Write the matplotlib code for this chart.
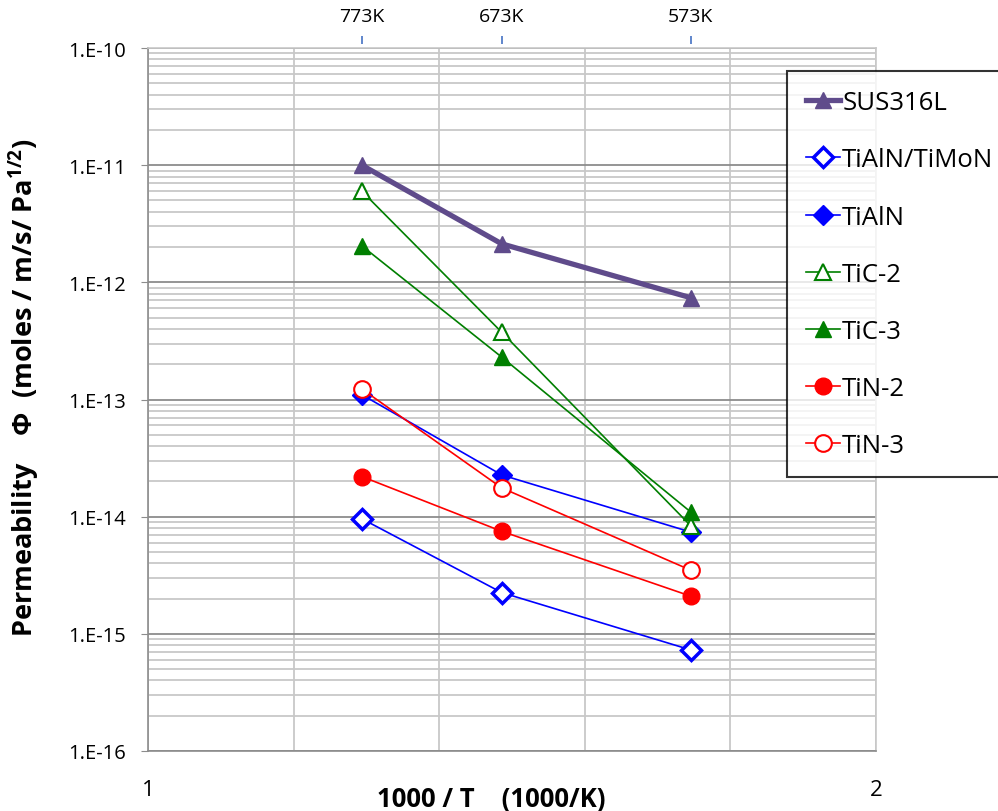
import numpy as np
import matplotlib.pyplot as plt
from matplotlib.ticker import LogLocator, FixedLocator, NullFormatter

plt.rcParams['font.family'] = ['Open Sans', 'DejaVu Sans']
plt.rcParams['mathtext.fontset'] = 'custom'
plt.rcParams['mathtext.bf'] = 'Open Sans:bold'
plt.rcParams['mathtext.rm'] = 'Open Sans:bold'

# temperaturas (K) e eixo x = 1000/T
temps = [773, 673, 573]
invT = [1000.0 / t for t in temps]

# permeabilidade
sus316l = [1.0e-11, 2.13e-12, 7.4e-13]
tialn_timon = [9.6e-15, 2.25e-15, 7.3e-16]
tialn = [1.1e-13, 2.27e-14, 7.4e-15]
tic2 = [6.0e-12, 3.75e-13, 8.4e-15]
tic3 = [2.05e-12, 2.3e-13, 1.1e-14]
tin2 = [2.2e-14, 7.5e-15, 2.1e-15]
tin3 = [1.23e-13, 1.76e-14, 3.5e-15]

fig = plt.figure(figsize=(9.98, 8.12), dpi=100)
ax = fig.add_axes([148/998, 1-752/812, (876-148)/998, (752-49)/812])

ax.set_yscale('log')
ax.set_xlim(1, 2)
ax.set_ylim(1e-16, 1e-10)

# grades
ax.yaxis.set_minor_locator(LogLocator(base=10, subs=np.arange(2, 10), numticks=20))
ax.yaxis.set_minor_formatter(NullFormatter())
ax.set_yticks([10.0**k for k in range(-16, -9)])
ax.set_yticklabels(['1.E%d' % k for k in range(-16, -9)])
ax.xaxis.set_major_locator(FixedLocator([1, 2]))
ax.xaxis.set_minor_locator(FixedLocator([1.2, 1.4, 1.6, 1.8]))
ax.grid(True, which='major', axis='y', color='#8c8c8c', lw=1.3)
ax.grid(True, which='minor', axis='y', color='#c8c8c8', lw=1.3)
ax.grid(True, which='both', axis='x', color='#c8c8c8', lw=1.3)
ax.tick_params(axis='y', which='major', direction='out', length=5, color='#8c8c8c',
               labelsize=14.5, pad=11)
ax.tick_params(axis='y', which='minor', length=0)
ax.tick_params(axis='x', which='both', length=0, labelsize=16, pad=20)
for s in ax.spines.values():
    s.set_color('#8c8c8c')
    s.set_linewidth(1.2)
ax.spines['top'].set_color('#c8c8c8')
ax.spines['right'].set_color('#c8c8c8')

ax.plot(invT, sus316l, '-^', color='#5f4b8b', lw=3.8, ms=11, label='SUS316L', zorder=5)
ax.plot(invT, tialn_timon, '-D', color='#0000ff', lw=1.2, ms=10, mfc='white', mew=2.5,
        label='TiAlN/TiMoN')
ax.plot(invT, tialn, '-D', color='#0000ff', lw=1.2, ms=10, label='TiAlN')
ax.plot(invT, tic2, '-^', color='#007f00', lw=1.2, ms=12, mfc='white', mew=1.5,
        label='TiC-2')
ax.plot(invT, tic3, '-^', color='#007f00', lw=1.2, ms=12, label='TiC-3')
ax.plot(invT, tin2, '-o', color='#ff0000', lw=1.2, ms=12, label='TiN-2')
ax.plot(invT, tin3, '-o', color='#ff0000', lw=1.2, ms=12, mfc='white', mew=1.5,
        label='TiN-3')

ax.set_xlabel('1000 / T    (1000/K)', fontsize=18.5, fontweight='bold')
ax.xaxis.set_label_coords((491-148)/728, -(786-752)/703)
ax.set_ylabel('Permeability    Φ  (moles / m/s/ Pa$^{\\mathbf{1/2}}$)', fontsize=19.5,
              fontweight='bold')
ax.yaxis.set_label_coords(-(148-42)/728, (752-388)/703)

# eixo superior com temperaturas
top = ax.secondary_xaxis(1.005)
top.set_xticks(invT)
top.set_xticklabels(['%dK' % t for t in temps])
top.spines['top'].set_visible(False)
top.tick_params(axis='x', direction='out', length=6, color='#4472c4', width=1.2,
                labelsize=14, pad=8)

leg = fig.legend(loc='upper left', bbox_to_anchor=(787/998, 1-72/812), fontsize=18.5,
                 frameon=True, fancybox=False, edgecolor='black', labelspacing=1.25,
                 handlelength=1.3, handletextpad=0.1, borderpad=0.75, borderaxespad=0)
leg.get_frame().set_linewidth(1.5)

plt.savefig('out.png', dpi=100)
